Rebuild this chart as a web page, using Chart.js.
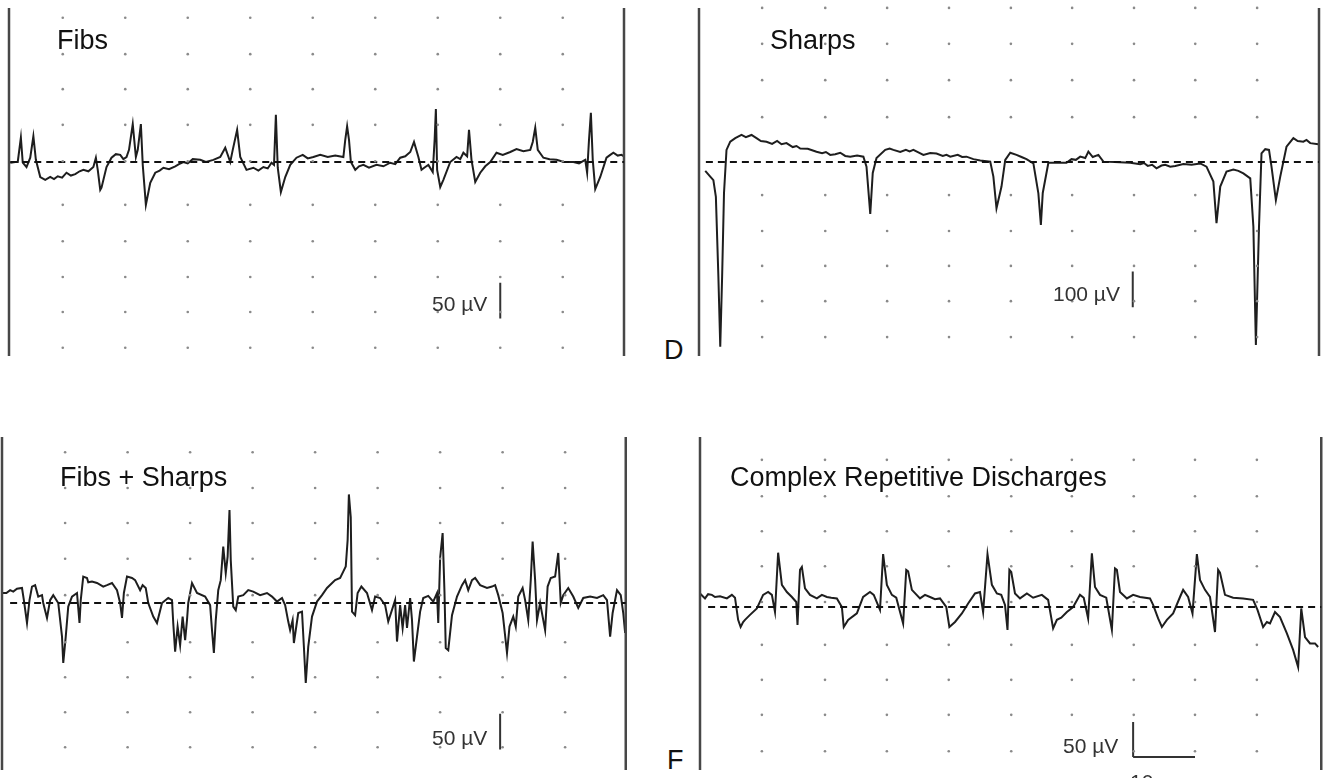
<!DOCTYPE html>
<html>
<head>
<meta charset="utf-8">
<script src="https://cdn.jsdelivr.net/npm/chart.js@4.4.1/dist/chart.umd.min.js"></script>
<style>
  html, body { margin: 0; padding: 0; background: #fff; overflow: hidden; }
  body { width: 1334px; height: 778px; position: relative; font-family: "Liberation Sans", Arial, Helvetica, sans-serif; }
  canvas { position: absolute; }
  .lbl { position: absolute; font-size: 27px; line-height: 27px; color: #111; white-space: nowrap; }
  .cal { position: absolute; font-size: 21px; line-height: 21px; color: #333; white-space: nowrap; }
</style>
</head>
<body>
<canvas id="fibs"></canvas>
<canvas id="sharps"></canvas>
<canvas id="fibsSharps"></canvas>
<canvas id="crd"></canvas>

<div class="lbl" style="left:57px; top:27px;">Fibs</div>
<div class="lbl" style="left:770px; top:27px;">Sharps</div>
<div class="lbl" style="left:60px; top:464px;">Fibs + Sharps</div>
<div class="lbl" style="left:730px; top:464px;">Complex Repetitive Discharges</div>
<div class="lbl" style="left:664px; top:337px;">D</div>
<div class="lbl" style="left:667px; top:747px;">F</div>
<div class="cal" style="left:432px; top:293px;">50 µV</div>
<div class="cal" style="left:1053px; top:283px;">100 µV</div>
<div class="cal" style="left:432px; top:727px;">50 µV</div>
<div class="cal" style="left:1063px; top:735px;">50 µV</div>
<div class="cal" style="left:1130px; top:771px;">10 ms</div>

<script>
// traces: [time ms, amplitude µV]
const fibsTrace = [
  [0.2,-1],[1.0,0],[1.4,0],[1.9,34],[2.2,-1],[2.8,-7],[3.4,6],[3.9,36],[4.3,3],[5.0,-21],[5.8,-25],[6.6,-21],
  [7.2,-24],[7.8,-20],[8.5,-22],[9.2,-15],[9.9,-19],[10.6,-17],[11.3,-13],[11.9,-11],[12.7,-13],[13.5,-7],[13.9,6],
  [14.2,-11],[14.6,-39],[14.8,-36],[15.6,-7],[16.4,6],[17.1,11],[17.8,10],[18.3,4],[18.8,7],[19.2,17],[19.8,53],
  [20.3,7],[20.6,17],[21.1,53],[21.4,-4],[21.9,-60],[22.6,-29],[23.4,-15],[24.1,-12],[24.7,-8],[25.6,-10],[26.6,-6],
  [27.2,-3],[27.9,0],[28.6,-2],[29.4,4],[30.6,3],[31.5,0],[32.7,3],[33.8,7],[34.6,20],[35.4,0],[35.8,17],[36.5,45],
  [37.0,7],[38.0,-11],[39.1,-8],[39.9,-12],[40.7,-7],[41.4,-9],[42.0,-1],[42.4,-4],[42.7,66],[43.0,-8],[43.5,-42],
  [44.2,-21],[45.0,-4],[46.0,6],[47.0,10],[47.8,5],[48.7,7],[49.8,10],[51.0,7],[52.2,9],[53.5,7],[53.8,31],
  [54.1,50],[54.4,31],[54.7,0],[55.4,-11],[56.0,-6],[56.7,-4],[57.6,-8],[58.8,-4],[59.9,-6],[61.0,-1],[61.8,-3],
  [62.6,6],[63.4,8],[64.2,14],[64.8,28],[65.5,7],[66.0,-11],[66.6,-7],[67.1,-4],[67.8,-14],[68.1,31],[68.3,74],
  [68.5,-11],[69.0,-35],[69.5,-25],[70.6,0],[71.6,7],[72.2,4],[72.7,13],[73.3,8],[73.6,45],[74.0,3],[74.6,-28],
  [75.4,-15],[76.2,-6],[77.0,0],[78.0,13],[79.0,10],[80.2,14],[81.2,18],[82.3,15],[83.4,17],[83.8,28],[84.2,48],
  [84.6,17],[85.5,6],[86.5,4],[87.6,3],[88.8,0],[90.3,0],[91.2,-2],[92.2,3],[92.5,-15],[92.8,31],[93.1,69],
  [93.4,3],[93.8,-38],[94.6,-21],[95.6,6],[96.2,10],[96.7,13],[97.4,9],[98.0,10],[98.4,8]
];

const sharpsTrace = [
  [1.0,-25],[1.8,-41],[2.3,-51],[2.7,-98],[3.1,-322],[3.4,-519],[3.7,-322],[4.0,-87],[4.4,34],[5.0,57],[5.8,67],
  [6.8,76],[7.5,70],[8.4,76],[9.2,67],[9.9,59],[10.8,57],[11.7,51],[12.5,59],[13.2,50],[14.0,53],[15.0,42],
  [15.6,45],[16.2,38],[17.4,37],[18.1,33],[18.8,29],[19.7,25],[20.3,28],[21.0,20],[21.8,22],[22.6,26],[23.4,17],
  [24.2,15],[25.3,18],[26.3,15],[26.8,-13],[27.4,-146],[27.8,-31],[28.4,11],[29.8,34],[30.5,38],[31.1,34],[32.2,28],
  [33.1,34],[33.7,30],[34.3,34],[35.1,27],[35.9,20],[37.0,25],[38.0,24],[39.0,17],[39.6,20],[40.2,15],[41.4,20],
  [42.1,14],[42.8,15],[43.9,8],[45.0,4],[46.6,1],[47.1,-41],[47.6,-130],[48.4,-69],[49.0,6],[49.8,26],[50.8,20],
  [51.6,14],[52.4,8],[53.5,-4],[54.3,-88],[54.7,-177],[55.0,-87],[55.9,-2],[57.3,-2],[58.8,-2],[59.6,8],[60.3,6],
  [61.0,15],[61.8,11],[62.3,29],[63.0,14],[63.9,20],[64.7,1],[66.5,0],[69.0,-2],[70.6,-6],[71.2,-3],[71.8,-11],
  [72.5,-8],[73.2,-18],[74.0,-10],[74.6,-8],[75.4,-13],[76.2,-11],[77.5,-6],[78.8,-8],[80.2,-4],[81.2,-13],
  [82.3,-55],[82.8,-172],[83.4,-69],[84.4,-27],[85.5,-21],[86.3,-25],[87.1,-32],[88.2,-46],[88.7,-182],[89.1,-514],
  [89.6,-182],[90.0,24],[90.6,36],[91.2,34],[91.6,-13],[92.3,-107],[93.0,-41],[94.0,43],[95.1,67],[95.8,59],
  [96.7,57],[97.2,62],[97.8,53],[99.1,50]
];

const fibsSharpsTrace = [
  [0.0,14],[0.7,14],[1.3,18],[1.8,16],[2.4,20],[3.2,21],[3.5,4],[4.0,-28],[4.4,4],[4.8,23],[5.3,25],[5.8,9],
  [6.4,11],[6.6,0],[7.2,-21],[7.7,4],[8.2,11],[9.0,0],[9.6,-47],[9.8,-84],[10.2,-47],[10.6,-5],[11.2,9],[12.0,14],
  [12.4,-28],[12.6,4],[13.0,37],[13.6,35],[13.8,29],[14.4,30],[15.2,28],[16.2,23],[16.8,25],[17.6,28],[18.4,18],
  [18.9,0],[19.2,-21],[19.5,14],[20.0,37],[20.8,35],[21.3,32],[22.1,18],[22.5,25],[23.0,21],[23.4,0],[24.2,-19],
  [24.8,-28],[25.6,0],[26.6,7],[27.2,4],[27.4,-28],[27.7,-68],[28.1,-33],[28.5,-59],[28.9,-19],[29.3,-52],
  [29.6,-24],[29.8,0],[30.4,28],[31.2,14],[32.5,9],[33.3,-3],[33.6,-38],[33.9,-70],[34.2,-24],[34.6,18],[35.0,32],
  [35.4,79],[35.8,42],[36.1,65],[36.4,130],[36.6,60],[37.0,-5],[37.4,-10],[37.8,9],[38.6,11],[39.4,18],[40.2,16],
  [41.3,11],[42.4,14],[43.2,9],[44.0,2],[44.8,7],[45.3,-3],[45.8,-26],[46.1,-38],[46.5,-24],[46.7,-56],[47.4,-14],
  [48.0,-12],[48.3,-61],[48.6,-112],[49.0,-61],[49.6,-19],[50.4,2],[51.2,11],[52.0,21],[53.3,32],[54.1,35],
  [54.6,44],[55.0,51],[55.3,88],[55.5,152],[55.8,120],[56.0,-12],[56.5,-17],[56.9,14],[57.5,23],[58.4,14],
  [59.2,-10],[59.7,9],[60.5,7],[61.3,-3],[61.8,-26],[62.9,4],[63.2,-54],[63.7,-3],[64.1,-35],[64.5,-3],[64.8,-35],
  [65.3,7],[65.6,-24],[65.9,-82],[66.4,-47],[66.9,-12],[67.4,7],[68.2,10],[69.0,2],[69.6,14],[69.8,-28],[70.1,63],
  [70.5,98],[70.8,14],[71.0,-63],[71.4,-66],[72.0,-17],[72.8,9],[73.6,25],[74.1,32],[74.6,18],[75.2,32],[75.7,35],
  [76.5,25],[77.6,21],[78.4,23],[78.9,25],[79.4,11],[80.1,-14],[80.8,-70],[81.2,-33],[81.8,-19],[82.2,-33],
  [82.6,9],[83.3,21],[83.7,4],[84.2,-24],[84.6,32],[84.9,86],[85.3,32],[85.6,-24],[86.1,0],[86.5,-19],[86.9,-38],
  [87.3,23],[87.8,35],[88.5,37],[89.0,70],[89.4,0],[89.8,11],[90.6,21],[91.4,9],[92.2,-7],[93.0,7],[94.1,9],
  [95.2,7],[96.2,11],[96.8,4],[97.3,-47],[97.7,-14],[98.4,18],[99.0,11],[99.4,-14],[99.7,-42]
];

const crdTrace = [
  [0.0,19],[0.8,12],[1.3,18],[1.9,17],[2.4,14],[3.2,15],[4.3,12],[5.1,17],[5.6,13],[6.1,-18],[6.5,-28],[6.9,-21],
  [7.2,-18],[8.0,-11],[9.1,-2],[10.1,17],[10.9,21],[11.5,17],[12.0,-7],[12.5,76],[13.1,31],[13.9,21],[14.7,14],
  [15.4,7],[15.6,-25],[16.0,52],[16.3,56],[16.8,26],[17.6,17],[18.7,12],[19.5,17],[20.3,14],[21.0,13],[21.9,12],
  [22.7,0],[23.0,-28],[23.7,-18],[25.1,-9],[26.1,14],[27.2,21],[27.8,17],[28.8,-4],[29.3,74],[29.9,31],[30.7,17],
  [31.4,13],[32.5,-23],[33.0,52],[33.3,50],[33.9,24],[35.2,12],[36.0,17],[36.8,14],[37.6,11],[38.4,12],[39.4,0],
  [39.9,-28],[40.8,-21],[41.9,-9],[42.9,5],[44.0,19],[44.8,21],[45.3,-7],[46.0,74],[46.7,31],[47.5,19],[48.2,17],
  [48.8,3],[49.2,-32],[49.5,52],[49.8,49],[50.4,19],[51.2,12],[52.3,19],[53.3,13],[54.7,17],[55.7,10],[56.5,-30],
  [57.1,-18],[57.8,-15],[58.7,-7],[59.7,0],[60.8,17],[61.4,13],[62.1,-16],[62.7,75],[63.2,28],[64.0,17],[65.0,13],
  [65.9,-32],[66.4,54],[66.7,52],[67.2,21],[68.3,12],[69.3,17],[70.4,14],[72.0,12],[72.5,3],[73.3,-16],[73.9,-28],
  [74.7,-18],[75.7,-9],[76.8,14],[77.3,24],[78.1,14],[78.8,-9],[79.5,74],[80.0,38],[80.8,24],[81.6,14],[82.4,-35],
  [82.9,52],[83.2,48],[84.0,17],[85.3,13],[86.9,12],[88.5,10],[89.2,-4],[90.1,-28],[90.7,-21],[91.2,-23],[92.0,-7],
  [92.8,-14],[93.9,-37],[94.9,-60],[95.7,-84],[96.2,-2],[96.8,-42],[97.6,-51],[98.4,-51],[98.9,-56]
];

// dotted graticule, ms and µV
const fibsGridX = [8.6, 18.6, 28.6, 38.6, 48.6, 58.6, 68.6, 78.6, 88.6];
const fibsGridY = [202, 151, 102, 52, 1, -60, -111, -161, -210, -260];
const sharpsGridX = [10.1, 20.2, 30.1, 40.0, 49.9, 59.7, 69.6, 79.4, 89.3];
const sharpsGridY = [433, 332, 230, 126, -93, -194, -292, -391, -492];
const fibsSharpsGridX = [10.1, 20.1, 30.1, 40.1, 50.1, 60.1, 70.1, 80.1, 90.1];
const fibsSharpsGridY = [211, 161, 112, 62, 11, -55, -104, -153, -202];
const crdGridX = [9.9, 20.0, 29.9, 39.8, 49.8, 59.5, 69.4, 79.2, 89.1];
const crdGridY = [206, 155, 106, 57, 7, -53, -102, -151, -202];

// calibration bars: [x ms, y top µV, y bottom µV]
const fibsCal = [78.6, -169, -219];
const sharpsCal = [69.4, -308, -408];
const fibsSharpsCal = [79.7, -155, -205];
const crdCal = [69.3, -161, -210];
const crdTimeCal = [69.3, 79.2];

function gridPoints(xs, ys) {
  const pts = [];
  ys.forEach(y => xs.forEach(x => pts.push({ x: x, y: y })));
  return pts;
}

function toXY(arr) {
  return arr.map(p => ({ x: p[0], y: p[1] }));
}

function line(data, color, width, dash) {
  return {
    type: 'scatter', data: data, showLine: true, borderColor: color, borderWidth: width,
    borderDash: dash || [], pointRadius: 0, tension: 0, clip: false
  };
}

function renderPanel(id, box, p) {
  const canvas = document.getElementById(id);
  canvas.width = box.w;
  canvas.height = box.h;
  canvas.style.left = box.left + 'px';
  canvas.style.top = box.top + 'px';

  const datasets = [
    {
      type: 'scatter', data: gridPoints(p.gridX, p.gridY), pointRadius: 1.3,
      pointBackgroundColor: '#8a8a8a', pointBorderWidth: 0, showLine: false
    },
    line([{ x: p.baseFrom, y: 0 }, { x: p.right, y: 0 }], '#111', 2, [7, 5]),
    line([{ x: 0, y: p.edgeTop }, { x: 0, y: p.edgeBottom }], '#474747', 2.5),
    line([{ x: p.right, y: p.edgeTop }, { x: p.right, y: p.edgeBottom }], '#474747', 2.5),
    line(toXY(p.trace), '#1e1e1e', 2),
    line([{ x: p.cal[0], y: p.cal[1] }, { x: p.cal[0], y: p.cal[2] }], '#333', 2)
  ];
  if (p.timeCal) {
    datasets.push(line([{ x: p.timeCal[0], y: p.cal[2] }, { x: p.timeCal[1], y: p.cal[2] }], '#333', 2));
  }

  new Chart(canvas.getContext('2d'), {
    type: 'scatter',
    data: { datasets: datasets },
    options: {
      responsive: false,
      animation: false,
      devicePixelRatio: 1,
      layout: { padding: 0, autoPadding: false },
      plugins: { legend: { display: false }, tooltip: { enabled: false } },
      scales: {
        x: { type: 'linear', display: false, min: p.xmin, max: p.xmin + box.w * 0.16 },
        y: { type: 'linear', display: false, min: p.ymin, max: p.ymin + box.h * p.uvPerPx }
      }
    }
  });
}

window.onload = () => {
  renderPanel('fibs', { left: 2, top: 4, w: 630, h: 356 }, {
    trace: fibsTrace, gridX: fibsGridX, gridY: fibsGridY, cal: fibsCal,
    xmin: -1.12, ymin: -277.2, uvPerPx: 1.4, right: 98.4, baseFrom: 0.2, edgeTop: 215.6, edgeBottom: -271.6
  });
  renderPanel('sharps', { left: 692, top: 4, w: 634, h: 356 }, {
    trace: sharpsTrace, gridX: sharpsGridX, gridY: sharpsGridY, cal: sharpsCal,
    xmin: -1.12, ymin: -556.4, uvPerPx: 2.81, right: 99.2, baseFrom: 1.1, edgeTop: 432.7, edgeBottom: -545
  });
  renderPanel('fibsSharps', { left: 0, top: 430, w: 632, h: 348 }, {
    trace: fibsSharpsTrace, gridX: fibsSharpsGridX, gridY: fibsSharpsGridY, cal: fibsSharpsCal,
    xmin: -0.32, ymin: -245, uvPerPx: 1.4, right: 99.8, baseFrom: 1.3, edgeTop: 232.4, edgeBottom: -233.8
  });
  renderPanel('crd', { left: 692, top: 430, w: 636, h: 348 }, {
    trace: crdTrace, gridX: crdGridX, gridY: crdGridY, cal: crdCal, timeCal: crdTimeCal,
    xmin: -1.28, ymin: -239.4, uvPerPx: 1.4, right: 99.4, baseFrom: 1.3, edgeTop: 238, edgeBottom: -228.2
  });
};
</script>
</body>
</html>
